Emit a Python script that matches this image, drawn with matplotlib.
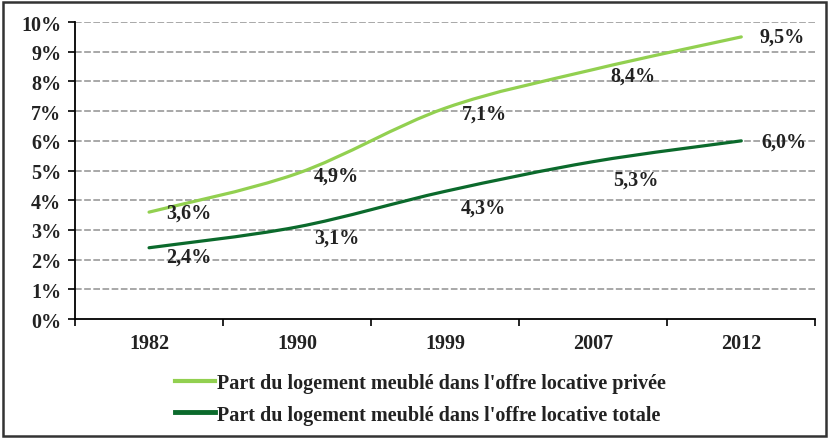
import matplotlib
matplotlib.use("Agg")
import matplotlib.pyplot as plt
from matplotlib.path import Path
from matplotlib.patches import PathPatch, Rectangle
from matplotlib.lines import Line2D

# data
years = ["1982", "1990", "1999", "2007", "2012"]
prive = [3.6, 4.9, 7.1, 8.4, 9.5]
totale = [2.4, 3.1, 4.3, 5.3, 6.0]
labels_prive = ["3,6%", "4,9%", "7,1%", "8,4%", "9,5%"]
labels_totale = ["2,4%", "3,1%", "4,3%", "5,3%", "6,0%"]
nom_prive = "Part du logement meublé dans l'offre locative privée"
nom_totale = "Part du logement meublé dans l'offre locative totale"

col_prive = "#92D050"
col_totale = "#0B6A2C"
font = "Liberation Serif"
fs = 14.5

# label offsets in pixels (dx, dy downwards), as placed in the original
off_prive = [(17, 0), (17, 2), (17, 5), (17, 6), (18, 0)]
off_totale = [(17, 9), (17, 11), (16, 16), (20, 18), (20, 1)]


def smooth_path(xs, ys):
    # bezier path like Excel's "smoothed line"
    pts = list(zip(xs, ys))
    verts = [pts[0]]
    codes = [Path.MOVETO]
    n = len(pts)
    for i in range(n - 1):
        p0 = pts[max(i - 1, 0)]
        p1 = pts[i]
        p2 = pts[i + 1]
        p3 = pts[min(i + 2, n - 1)]
        c1 = (p1[0] + (p2[0] - p0[0]) / 6, p1[1] + (p2[1] - p0[1]) / 6)
        c2 = (p2[0] - (p3[0] - p1[0]) / 6, p2[1] - (p3[1] - p1[1]) / 6)
        verts += [c1, c2, p2]
        codes += [Path.CURVE4] * 3
    return Path(verts, codes)


fig = plt.figure(figsize=(8.29, 4.39), dpi=100)
ax = fig.add_axes([0.0905, 0.271, 0.893, 0.6765])

x = list(range(len(years)))
ax.add_patch(PathPatch(smooth_path(x, prive), fill=False, edgecolor=col_prive, lw=2.3, capstyle="round", zorder=3))
ax.add_patch(PathPatch(smooth_path(x, totale), fill=False, edgecolor=col_totale, lw=2.3, capstyle="round", zorder=3))

for xi, v, lab, (dx, dy) in zip(x, prive, labels_prive, off_prive):
    ax.annotate(lab, (xi, v), xytext=(dx * 0.72, -dy * 0.72), textcoords="offset points",
                ha="left", va="center", fontsize=fs, fontweight="bold", family=font, color="#222222", zorder=4)
for xi, v, lab, (dx, dy) in zip(x, totale, labels_totale, off_totale):
    ax.annotate(lab, (xi, v), xytext=(dx * 0.72, -dy * 0.72), textcoords="offset points",
                ha="left", va="center", fontsize=fs, fontweight="bold", family=font, color="#222222", zorder=4)

ax.set_xlim(-0.5, len(years) - 0.5)
ax.set_ylim(0, 10)
ax.set_yticks(range(0, 11))
ax.set_yticklabels([str(i) + "%" for i in range(0, 11)])
ax.set_xticks(x)
ax.set_xticklabels(years)
ax.set_xticks([i - 0.5 for i in range(len(years) + 1)], minor=True)
ax.tick_params(axis="x", which="major", length=0, pad=10)
ax.tick_params(axis="x", which="minor", length=5, width=1.2, direction="out")
ax.tick_params(axis="y", length=5, width=1.2, pad=5)
for t in ax.get_xticklabels() + ax.get_yticklabels():
    t.set_fontfamily(font)
    t.set_fontweight("bold")
    t.set_fontsize(fs)
    t.set_color("#222222")

for v in range(1, 11):
    ax.axhline(v, color="#999999", lw=1.2, ls=(0, (4, 1.5)), zorder=1)

ax.spines["top"].set_visible(False)
ax.spines["right"].set_visible(False)
ax.spines["left"].set_linewidth(1.3)
ax.spines["bottom"].set_linewidth(1.3)

handles = [Line2D([], [], color=col_prive, lw=3), Line2D([], [], color=col_totale, lw=3.5)]
leg = fig.legend(handles, [nom_prive, nom_totale], loc="upper left", bbox_to_anchor=(0.211, 0.147),
                 frameon=False, handlelength=2.0, handletextpad=0.1, labelspacing=0.55,
                 borderaxespad=0, borderpad=0,
                 prop={"family": font, "weight": "bold", "size": fs})
for t in leg.get_texts():
    t.set_color("#222222")

fig.patches.append(Rectangle((0.004, 0.004), 0.992, 0.99, transform=fig.transFigure,
                             fill=False, edgecolor="#333333", lw=1.8))

fig.savefig("out.png", dpi=100)
